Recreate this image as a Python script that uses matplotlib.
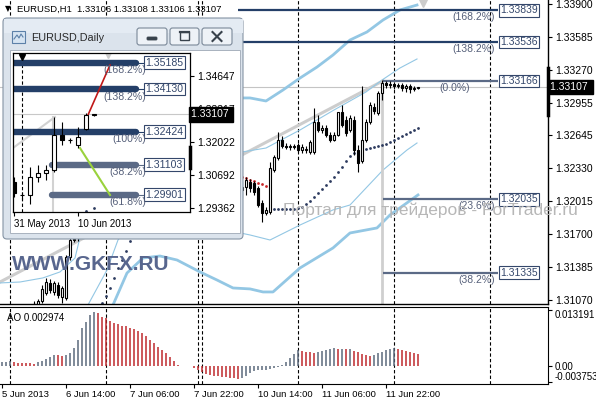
import numpy as np
import matplotlib
matplotlib.use('Agg')
import matplotlib.pyplot as plt
from matplotlib.patches import Rectangle, FancyBboxPatch
from matplotlib.transforms import blended_transform_factory

plt.rcParams['font.family'] = ['Liberation Sans', 'DejaVu Sans']

# ---------------- H1 bars, index 0 = 5 Jun 22:00 ----------------
opens = [1.3088, 1.3090, 1.3092, 1.3094, 1.3091, 1.3093, 1.3097, 1.3095, 1.3099, 1.3104,
         1.3106, 1.31141, 1.31237, 1.31151, 1.31218, 1.31103, 1.31094, 1.31485, 1.3165, 1.3168,
         1.3188, 1.3222, 1.3240, 1.3256, 1.3250, 1.3246, 1.3252, 1.3248, 1.3240, 1.3246,
         1.3258, 1.3262, 1.3274, 1.3266, 1.3254, 1.3250, 1.3244, 1.3248, 1.3242, 1.3236,
         1.3230, 1.3205, 1.3220, 1.3214, 1.3210, 1.3216, 1.3212, 1.3208, 1.3206, 1.3210,
         1.3212, 1.3214, 1.3210, 1.3204, 1.3208, 1.3216, 1.3212, 1.3206, 1.3210, 1.3218,
         1.3212, 1.32153, 1.32201, 1.32191, 1.32144, 1.31999, 1.31905, 1.31915, 1.32316, 1.32430,
         1.32602, 1.32545, 1.32535, 1.32545, 1.32554, 1.32506, 1.32506, 1.32487, 1.32487, 1.32774,
         1.32697, 1.32716, 1.32650, 1.32602, 1.32650, 1.32869, 1.32793, 1.32697, 1.32793, 1.32506,
         1.32400, 1.32600, 1.32774, 1.32920, 1.32860, 1.33050, 1.33146, 1.33127, 1.33136, 1.33117,
         1.33127, 1.33098, 1.33117, 1.33090, 1.33100]
highs = [1.3094, 1.3095, 1.3097, 1.3098, 1.3096, 1.3099, 1.3101, 1.3100, 1.3106, 1.3108,
         1.3122, 1.3128, 1.3127, 1.3126, 1.3125, 1.3121, 1.3150, 1.3170, 1.3175, 1.3192,
         1.3228, 1.3246, 1.3262, 1.3268, 1.3260, 1.3258, 1.3262, 1.3255, 1.3250, 1.3262,
         1.3270, 1.3280, 1.3281, 1.3272, 1.3262, 1.3258, 1.3252, 1.3256, 1.3250, 1.3244,
         1.3240, 1.3226, 1.3232, 1.3224, 1.3220, 1.3226, 1.3220, 1.3216, 1.3214, 1.3216,
         1.3220, 1.3222, 1.3218, 1.3212, 1.3220, 1.3224, 1.3218, 1.3214, 1.3222, 1.3226,
         1.3220, 1.32249, 1.32230, 1.32210, 1.32163, 1.32029, 1.31962, 1.32392, 1.32459, 1.32678,
         1.32640, 1.32573, 1.32564, 1.32564, 1.32573, 1.32564, 1.32545, 1.32602, 1.32907, 1.32840,
         1.32745, 1.32740, 1.32680, 1.32680, 1.32821, 1.32936, 1.32831, 1.32840, 1.32831, 1.32554,
         1.33117, 1.32800, 1.32965, 1.32950, 1.33070, 1.33175, 1.33166, 1.33160, 1.33155, 1.33150,
         1.33150, 1.33140, 1.33136, 1.33120, 1.33110]
lows = [1.3084, 1.3086, 1.3088, 1.3089, 1.3087, 1.3090, 1.3092, 1.3091, 1.3096, 1.3100,
        1.3105, 1.3112, 1.3114, 1.3112, 1.3109, 1.3105, 1.3107, 1.3146, 1.3163, 1.3164,
        1.3184, 1.3212, 1.3230, 1.3244, 1.3238, 1.3240, 1.3244, 1.3236, 1.3232, 1.3242,
        1.3250, 1.3256, 1.3260, 1.3250, 1.3244, 1.3240, 1.3236, 1.3238, 1.3230, 1.3224,
        1.3190, 1.3196, 1.3208, 1.3204, 1.3200, 1.3208, 1.3204, 1.3200, 1.3198, 1.3204,
        1.3206, 1.3206, 1.3200, 1.3196, 1.3202, 1.3208, 1.3202, 1.3198, 1.3204, 1.3208,
        1.3205, 1.32077, 1.32106, 1.32077, 1.31962, 1.31819, 1.31886, 1.31896, 1.32297, 1.32411,
        1.32526, 1.32516, 1.32506, 1.32516, 1.32487, 1.32478, 1.32478, 1.32468, 1.32468, 1.32678,
        1.32669, 1.32630, 1.32583, 1.32590, 1.32640, 1.32726, 1.32640, 1.32678, 1.32459, 1.32296,
        1.32380, 1.32580, 1.32755, 1.32850, 1.32840, 1.32984, 1.33098, 1.33100, 1.33090, 1.33095,
        1.33070, 1.33060, 1.33050, 1.33070, 1.33090]
closes = [1.3090, 1.3092, 1.3094, 1.3091, 1.3093, 1.3097, 1.3095, 1.3098, 1.3104, 1.3106,
          1.3118, 1.31246, 1.31170, 1.31237, 1.31122, 1.31189, 1.31485, 1.31647, 1.3166, 1.3188,
          1.3222, 1.3240, 1.3256, 1.3250, 1.3246, 1.3252, 1.3248, 1.3240, 1.3246, 1.3258,
          1.3262, 1.3274, 1.3266, 1.3254, 1.3250, 1.3244, 1.3248, 1.3242, 1.3236, 1.3230,
          1.3205, 1.3220, 1.3214, 1.3210, 1.3216, 1.3212, 1.3208, 1.3206, 1.3208, 1.3212,
          1.3214, 1.3210, 1.3204, 1.3208, 1.3216, 1.3212, 1.3206, 1.3210, 1.3218, 1.3212,
          1.3215, 1.32220, 1.32144, 1.32106, 1.31982, 1.31905, 1.31934, 1.32335, 1.32440, 1.32602,
          1.32545, 1.32535, 1.32545, 1.32535, 1.32506, 1.32535, 1.32516, 1.32583, 1.32774, 1.32697,
          1.32716, 1.32650, 1.32602, 1.32650, 1.32869, 1.32745, 1.32669, 1.32812, 1.32506, 1.32382,
          1.32600, 1.32774, 1.32936, 1.32880, 1.33050, 1.33146, 1.33127, 1.33136, 1.33117, 1.33127,
          1.33098, 1.33117, 1.33090, 1.33100, 1.33107]

# Awesome Oscillator
ao_values = [0.0010, 0.0011, 0.0012, 0.0009, 0.0008, 0.00075, 0.0007, 0.00065, 0.0006, 0.0009,
             0.0013, 0.0017, 0.0021, 0.0027, 0.0026, 0.0025, 0.0027, 0.0031, 0.0042, 0.0062,
             0.0090, 0.0105, 0.0121, 0.0128, 0.0126, 0.0117, 0.0113, 0.0108, 0.0103, 0.0100,
             0.0095, 0.0094, 0.0090, 0.0087, 0.0084, 0.0079, 0.0072, 0.0062, 0.0054, 0.0046,
             0.0039, 0.0031, 0.0021, 0.0013, 0.0003, 0.00005, -0.00002, 0.00003, -0.0003, -0.0008,
             -0.0014, -0.0018, -0.0021, -0.0023, -0.0024, -0.0025, -0.0026, -0.0027, -0.0028, -0.0029,
             -0.0027, -0.0022, -0.0016, -0.0012, -0.0010, -0.0009, -0.0008, -0.0006, -0.0004, -0.0002,
             0.0003, 0.0010, 0.0020, 0.0028, 0.0038, 0.0035, 0.0034, 0.0033, 0.0032, 0.0034,
             0.0036, 0.0038, 0.0040, 0.0042, 0.0040, 0.0041, 0.0040, 0.0041, 0.0036, 0.0033,
             0.0030, 0.0027, 0.0024, 0.0027, 0.0031, 0.0034, 0.0038, 0.0040, 0.0042, 0.0041,
             0.0038, 0.0036, 0.0033, 0.0031, 0.002974]

# Parabolic SAR (below price = navy, above price = red)
sar_up_bars = list(range(25, 40)) + list(range(68, 105))
sar_up_values = [1.31046, 1.31113, 1.31189, 1.31285, 1.31380, 1.31456, 1.31542, 1.31638, 1.3172, 1.3180,
                 1.3188, 1.3195, 1.3201, 1.3206, 1.3211,
                 1.31943, 1.31943, 1.31943, 1.31943, 1.31943, 1.31943, 1.31953, 1.31962, 1.31991, 1.32020,
                 1.32058, 1.32096, 1.32134, 1.32172, 1.32210, 1.32249, 1.32296, 1.32344, 1.32401, 1.32449,
                 1.32478, 1.32487, 1.32497, 1.32516, 1.32525, 1.32535, 1.32544, 1.32554, 1.32563, 1.32583,
                 1.32602, 1.32621, 1.32640, 1.32659, 1.32678, 1.32697, 1.32716]
sar_dn_bars = list(range(40, 68))
sar_dn_values = [1.3281, 1.3277, 1.3273, 1.3269, 1.3265, 1.3262, 1.3258, 1.3254, 1.3250, 1.3247,
                 1.3244, 1.3241, 1.3238, 1.3236, 1.3234, 1.3232, 1.3230, 1.3228, 1.3227, 1.3226,
                 1.3225, 1.32239, 1.32220, 1.32210, 1.32191, 1.32182, 1.32163, 1.32153]

# band lines (bar index, price)
wide_upper_bars = [58, 60.25, 62, 66, 70.25, 74.5, 78.75, 82.75, 87, 91.25, 95.25, 99.5, 103.75]
wide_upper_values = [1.3300, 1.33003, 1.33003, 1.32974, 1.33079, 1.33193, 1.33298, 1.33413, 1.33556,
                     1.33633, 1.33747, 1.33843, 1.33890]
wide_lower_bars = [27, 27.75, 31.25, 35.25, 39.5, 43.75, 49.5, 53.75, 57.75, 62, 65.25, 67.75, 74.5,
                   82.75, 87, 93.75, 97, 104]
wide_lower_values = [1.30960, 1.31027, 1.31332, 1.31475, 1.31494, 1.31456, 1.31342, 1.31265, 1.31189,
                     1.31180, 1.31151, 1.31151, 1.31380, 1.31571, 1.31714, 1.31762, 1.31886, 1.32077]
thin_upper_bars = [-0.5, 4.5, 10.25, 14.5, 18.25, 20, 24, 30, 40, 50, 60, 66, 74.5, 83, 91, 95, 99.5, 103.75]
thin_upper_values = [1.31237, 1.31246, 1.31285, 1.31342, 1.31475, 1.3175, 1.3240, 1.3285, 1.3300, 1.3270,
                     1.32487, 1.32525, 1.32697, 1.32888, 1.33060, 1.33174, 1.33289, 1.33375]
thin_lower_bars = [21, 21.5, 26.25, 29, 35, 45, 55, 62, 67, 74.5, 82.75, 87, 95.25, 101.25, 103.75]
thin_lower_values = [1.3098, 1.31027, 1.31361, 1.31647, 1.3195, 1.3190, 1.3175, 1.31695, 1.31647,
                     1.31790, 1.31934, 1.31981, 1.32315, 1.32506, 1.32573]
trend_bars = [-0.5, 95.25]
trend_values = [1.31246, 1.33166]

# Fibonacci levels on the H1 chart
fib_values = [1.33839, 1.33536, 1.33166, 1.32035, 1.31335]
fib_labels = ['(168.2%)', '(138.2%)', '(0.0%)', '(23.6%)', '(38.2%)']
fib_start = [59, 59, 95.25, 95.25, 95.25]
fib_end = 124

price_ticks = [1.33900, 1.33585, 1.33270, 1.32955, 1.32645, 1.32330, 1.32015, 1.31700, 1.31385, 1.31070]
time_ticks = [0, 16, 32, 48, 64, 80, 96]
time_labels = ['5 Jun 2013', '6 Jun 14:00', '7 Jun 06:00', '7 Jun 22:00', '10 Jun 14:00',
               '11 Jun 06:00', '11 Jun 22:00']
separators = [2, 26, 49, 50, 74, 98, 122]
ao_ticks = [0.013191, 0.0, -0.003753]
ao_tick_labels = ['0.013191', '0.00', '-0.003753']
bid = 1.33107

# ---------------- Daily inset, index 0 = 31 May ----------------
d_opens = [1.30403, 1.29883, 1.29883, 1.30603, 1.30764, 1.30884, 1.32285, 1.32085, 1.31885, 1.32526, 1.33086]
d_highs = [1.30600, 1.30003, 1.31004, 1.31084, 1.31084, 1.33006, 1.32806, 1.32165, 1.32606, 1.33166, 1.33140]
d_lows = [1.29800, 1.29682, 1.29522, 1.30403, 1.30483, 1.30804, 1.31885, 1.31965, 1.31765, 1.32486, 1.33060]
d_closes = [1.29963, 1.29900, 1.30603, 1.30764, 1.30884, 1.32285, 1.32085, 1.32100, 1.32205, 1.33086, 1.33107]
d_fib_values = [1.35185, 1.34130, 1.32424, 1.31103, 1.29901]
d_fib_labels = ['(168.2%)', '(138.2%)', '(100%)', '(38.2%)', '(61.8%)']
d_fib_start = [-0.5, -0.5, -0.5, 4.75, 4.75]
d_fib_end = 15.25
d_red_bars, d_red_values = [9.25, 12.0], [1.33086, 1.35089]
d_green_bars, d_green_values = [8.25, 12.0], [1.31765, 1.29883]
d_ticks = [1.34647, 1.33317, 1.32022, 1.30692, 1.29362]
d_time_ticks = [0, 8]
d_time_labels = ['31 May 2013', '10 Jun 2013']

NAVY = '#243f68'
SLATE = '#5b6a86'
LABEL = '#34476b'
PCT = '#56607a'
BAND = '#93c7e4'


def draw_candles(ax, xs, o, h, l, c, width, lw):
    for x, oo, hh, ll, cc in zip(xs, o, h, l, c):
        ax.plot([x, x], [ll, hh], color='black', lw=lw, zorder=3, solid_capstyle='butt')
        face = 'white' if cc >= oo else 'black'
        ax.add_patch(Rectangle((x - width / 2, min(oo, cc)), width, abs(cc - oo),
                               facecolor=face, edgecolor='black', lw=lw, zorder=3.1))


fig = plt.figure(figsize=(5.96, 4.0), dpi=100)
W, H = 596.0, 400.0
ax = fig.add_axes([0, 96 / H, 548 / W, 304 / H])
ax_ao = fig.add_axes([0, 16 / H, 548 / W, 77 / H])

bars = np.arange(len(closes))

# ---- main chart ----
ax.set_xlim(-0.5, 136.5)
ax.set_ylim(1.31036, 1.33938)
for s in separators:
    ax.axvline(s, color='black', lw=0.8, ls=(0, (3, 2)), zorder=1)
    ax_ao.axvline(s, color='black', lw=0.8, ls=(0, (3, 2)), zorder=1)
ax.axhline(bid, color='#c4c4c4', lw=0.8, zorder=1)
ax.plot(trend_bars, trend_values, color='#cdcdcd', lw=2.2, zorder=1.5)
ax.plot(wide_upper_bars, wide_upper_values, color=BAND, lw=2.0, zorder=1.6)
ax.plot(wide_lower_bars, wide_lower_values, color=BAND, lw=2.0, zorder=1.6)
ax.plot(thin_upper_bars, thin_upper_values, color=BAND, lw=0.8, zorder=1.6)
ax.plot(thin_lower_bars, thin_lower_values, color=BAND, lw=0.8, zorder=1.6)
ax.plot(sar_up_bars, sar_up_values, 'o', ms=2.0, color='#2c3a5e', mew=0, zorder=2.5)
ax.plot(sar_dn_bars, sar_dn_values, 'o', ms=2.0, color='#c8282a', mew=0, zorder=2.5)
ax.plot([95, 95], [fib_values[2], 1.30], color='#cfcfcf', lw=2.0, zorder=1.7)
ax.plot([105.2], [1.33912], marker='v', ms=6, color='#cccccc', zorder=1.7)

draw_candles(ax, bars, opens, highs, lows, closes, 0.7, 0.8)

for val, lab, st in zip(fib_values, fib_labels, fib_start):
    col = NAVY if st < 90 else SLATE
    ax.plot([st, fib_end], [val, val], color=col, lw=1.6, zorder=2, solid_capstyle='butt')
    ax.text(fib_end + 0.6, val, '%.5f' % val, ha='left', va='center', fontsize=7.5, color=LABEL,
            zorder=5, bbox=dict(boxstyle='square,pad=0.12', fc='white', ec=LABEL, lw=0.8))
    xr = 117 if lab == '(0.0%)' else 123.3
    ax.annotate(lab, xy=(xr, val), xytext=(0, -1.5), textcoords='offset points',
                ha='right', va='top', fontsize=7.5, color=PCT, zorder=5)

ax.yaxis.tick_right()
ax.set_yticks(price_ticks)
ax.set_yticklabels(['%.5f' % v for v in price_ticks])
ax.tick_params(axis='y', length=3, width=0.8, pad=2, labelsize=7.5, colors='black')
ax.set_xticks([])
for side in ['left', 'top']:
    ax.spines[side].set_visible(False)
for side in ['right', 'bottom']:
    ax.spines[side].set_linewidth(1.0)
yx = blended_transform_factory(ax.transAxes, ax.transData)
ax.text(1.004, bid, '1.33107 ', transform=yx, ha='left', va='center', fontsize=7.5, color='white',
        zorder=6, bbox=dict(boxstyle='square,pad=0.2', fc='black', ec='black'))
ax.plot([1.0, 1.0], [1.33289, 1.32840], transform=yx, color='black', lw=2.5, clip_on=False, zorder=6)

# ---- AO panel ----
ax_ao.set_xlim(-0.5, 136.5)
ax_ao.set_ylim(-0.0042, 0.0140)
ao_colors = ['#5b697c' if i == 0 or v > ao_values[i - 1] else '#bf2a2d' for i, v in enumerate(ao_values)]
ax_ao.vlines(bars, 0, ao_values, colors=ao_colors, lw=1.1, zorder=2)
ax_ao.yaxis.tick_right()
ax_ao.set_yticks(ao_ticks)
ax_ao.set_yticklabels(ao_tick_labels)
ax_ao.tick_params(axis='y', length=3, width=0.8, pad=1.5, labelsize=7)
yl = ax_ao.get_yticklabels()
yl[0].set_va('top')
yl[2].set_va('bottom')
ax_ao.set_xticks(time_ticks)
ax_ao.set_xticklabels(time_labels)
ax_ao.tick_params(axis='x', length=3, width=0.8, pad=1, labelsize=6.8)
for t in ax_ao.get_xticklabels():
    t.set_ha('left')
ax_ao.spines['left'].set_visible(False)
ax_ao.text(0.012, 0.86, 'AO 0.002974', transform=ax_ao.transAxes, fontsize=7, va='center')

# ---- overlay: title, watermarks, inset window frame ----
ov = fig.add_axes([0, 0, 1, 1], zorder=10)
ov.set_xlim(0, W)
ov.set_ylim(H, 0)
ov.axis('off')
ov.text(5, 9, '\u25bc', fontsize=5.5, va='center', ha='left', family='DejaVu Sans')
ov.text(17, 9, 'EURUSD,H1  1.33106 1.33108 1.33106 1.33107', fontsize=6.8, va='center', ha='left')
ov.text(12, 265, 'WWW.GKFX.RU', fontsize=15, fontweight='bold', color='#58668e', va='center', ha='left')
ov.text(283, 210, 'Портал для трейдеров - ForTrader.ru', fontsize=12.5, color='#b7b7b7',
        va='center', ha='left')

ov.add_patch(FancyBboxPatch((3, 18), 240, 221, boxstyle='round,pad=0,rounding_size=4',
                            fc='#dbe3ec', ec='#8594a5', lw=0.8))
ov.add_patch(Rectangle((3.5, 18.5), 239, 14, fc='#e4ebf3', ec='none'))
ov.add_patch(Rectangle((10, 50), 230, 183, fc='white', ec='#a8b2be', lw=0.7))
ov.add_patch(Rectangle((12, 31), 13, 12, fc='#d6e4f2', ec='#5c80a8', lw=0.8))
ov.plot([14, 17, 19, 21, 23], [39, 35, 38, 34, 37], color='#5c80a8', lw=0.8)
ov.text(31, 38, 'EURUSD,Daily', fontsize=7.8, color='#2a2a2a', va='center', ha='left')
for bx, bw in [(137, 30), (170, 29), (202, 30)]:
    ov.add_patch(FancyBboxPatch((bx, 28), bw, 17, boxstyle='round,pad=0,rounding_size=2.5',
                                fc='#eef2f7', ec='#7a8898', lw=0.8))
ov.add_patch(FancyBboxPatch((147, 37), 10, 3, boxstyle='round,pad=0,rounding_size=1',
                            fc='#38424c', ec='#38424c', lw=0.6))
ov.add_patch(Rectangle((180, 31.5), 9, 8, fill=False, ec='#38424c', lw=1.0))
ov.plot([180, 189], [32.3, 32.3], color='#38424c', lw=1.6)
ov.plot([212.5, 221.5], [32, 41], color='#38424c', lw=1.5)
ov.plot([212.5, 221.5], [41, 32], color='#38424c', lw=1.5)

# ---- inset daily chart ----
ax_in = fig.add_axes([13 / W, 1 - 212 / H, 177 / W, 159 / H], zorder=11)
ax_in.set_xlim(-0.125, 22)
ax_in.set_ylim(1.29202, 1.35569)
d_bars = np.arange(len(d_closes))
ax_in.axhline(bid, color='#c8c8c8', lw=0.8, zorder=1)
ax_in.axvline(1, color='black', lw=0.8, ls=(0, (3, 2)), zorder=1)
ax_in.plot([1], [1.35420], marker='v', ms=4, color='black', zorder=6)
ax_in.plot([-0.125, 5.125], [1.31765, 1.33006], color='#d2d2d2', lw=1.5, zorder=1)
ax_in.plot([4.875, 4.875], [1.33006, 1.29], color='#d2d2d2', lw=1.5, zorder=1)
ax_in.plot([11.7], [1.35500], marker='v', ms=5, color='#cccccc', zorder=1)
ax_in.plot([9, 10], [1.29242, 1.29362], 'o', ms=2.0, color='#2c3a5e', mew=0, zorder=2)
for val, lab, st in zip(d_fib_values, d_fib_labels, d_fib_start):
    col = NAVY if st < 0 else SLATE
    ax_in.plot([st, d_fib_end], [val, val], color=col, lw=4.6, zorder=2, solid_capstyle='round')
    ax_in.plot([d_fib_end, 16.4], [val, val], color=col, lw=0.8, zorder=2)
    ax_in.text(16.45, val, '%.5f' % val, ha='left', va='center', fontsize=7.6, color=LABEL, zorder=5,
               bbox=dict(boxstyle='square,pad=0.12', fc='white', ec=LABEL, lw=0.8))
    ax_in.annotate(lab, xy=(16.5, val), xytext=(0, -2), textcoords='offset points',
                   ha='right', va='top', fontsize=7.6, color=PCT, zorder=5)
ax_in.plot(d_red_bars, d_red_values, color='#c01818', lw=1.2, zorder=3)
ax_in.plot(d_green_bars, d_green_values, color='#9ad23c', lw=1.5, zorder=3)
draw_candles(ax_in, d_bars, d_opens, d_highs, d_lows, d_closes, 0.45, 0.8)

ax_in.yaxis.tick_right()
ax_in.set_yticks(d_ticks)
ax_in.set_yticklabels(['%.5f' % v for v in d_ticks])
ax_in.tick_params(axis='y', length=3, width=0.8, pad=2, labelsize=7.5)
ax_in.set_xticks(d_time_ticks)
ax_in.set_xticklabels(d_time_labels)
ax_in.tick_params(axis='x', length=3, width=0.8, pad=2, labelsize=7)
for t in ax_in.get_xticklabels():
    t.set_ha('left')
for sp in ax_in.spines.values():
    sp.set_linewidth(0.9)
yin = blended_transform_factory(ax_in.transAxes, ax_in.transData)
ax_in.text(1.004, bid, '1.33107 ', transform=yin, ha='left', va='center', fontsize=7.5, color='white',
           zorder=6, bbox=dict(boxstyle='square,pad=0.2', fc='black', ec='black'))
ax_in.plot([1.0, 1.0], [1.31805, 1.30964], transform=yin, color='black', lw=2.5, clip_on=False, zorder=6)

fig.savefig('out.png', dpi=100)
